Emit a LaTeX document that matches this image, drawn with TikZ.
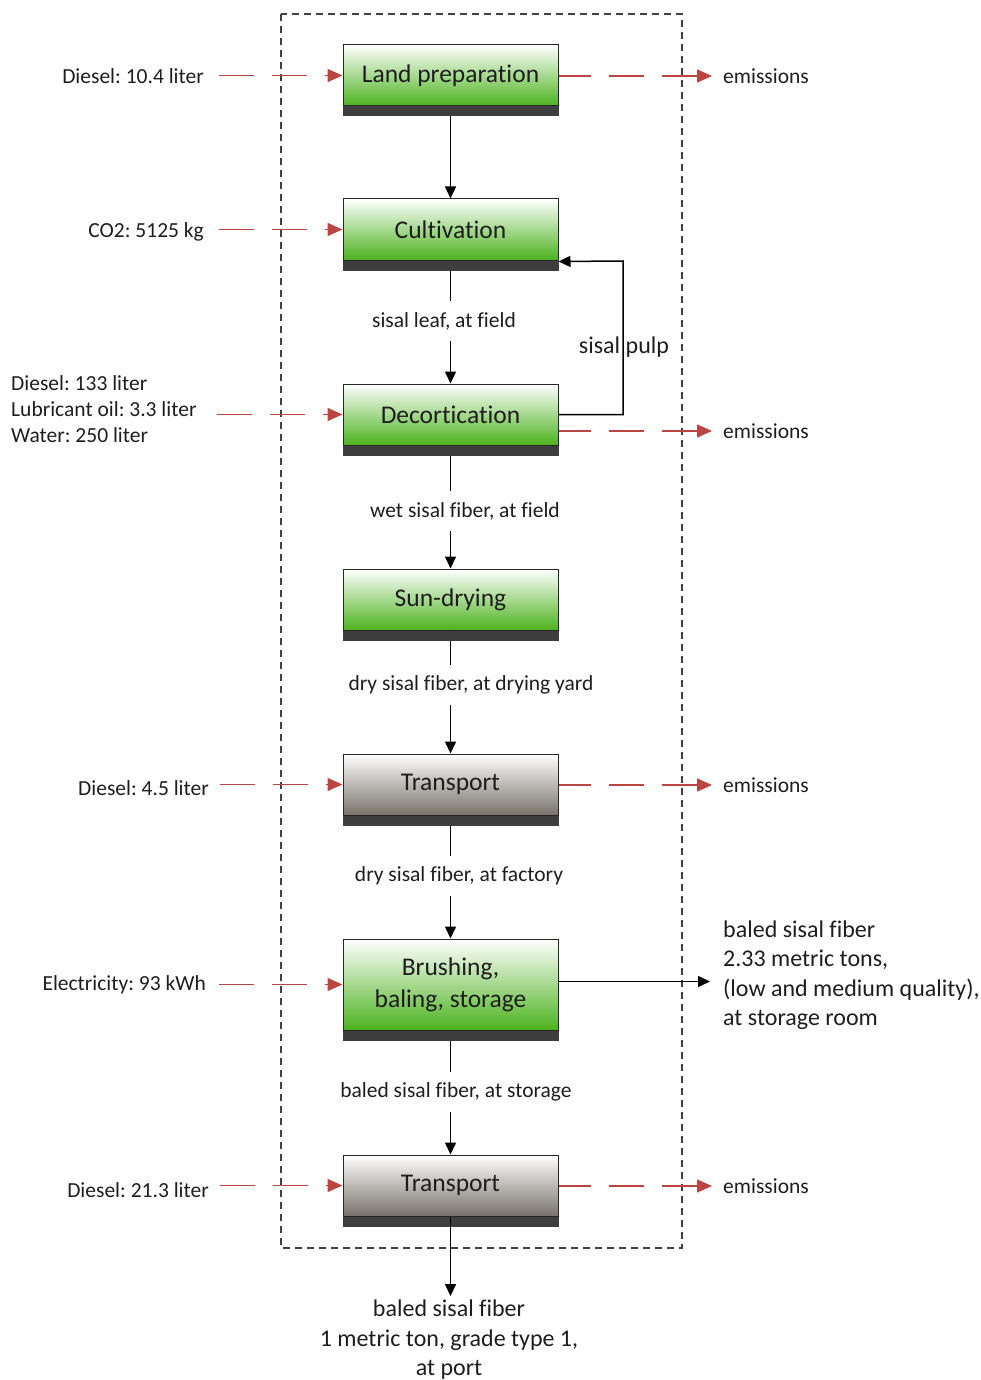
\documentclass[tikz,border=0pt]{standalone}
\usepackage{fontspec}
\setmainfont[Ligatures=NoCommon]{Carlito}
\usetikzlibrary{arrows.meta}
\definecolor{arrred}{RGB}{185,70,66}
\definecolor{boxgreen}{RGB}{76,178,30}
\definecolor{boxgray}{RGB}{120,114,106}
\definecolor{stripc}{RGB}{62,62,62}
\definecolor{txt}{RGB}{30,30,30}
\frenchspacing
\begin{document}
\frenchspacing
\begin{tikzpicture}[x=1pt,y=-1pt,
  proc/.style={draw=black!85, line width=1pt, minimum width=215pt, minimum height=61pt,
    inner sep=0pt, font=\fontsize{25.5}{30}\selectfont, text=txt, align=center},
  greenbox/.style={proc, top color=white, bottom color=boxgreen},
  graybox/.style={proc, top color=white, bottom color=boxgray},
  strip/.style={fill=stripc},
  small/.style={inner sep=0pt, text=txt, font=\fontsize{21.5}{26}\selectfont},
  big/.style={inner sep=0pt, text=txt, font=\fontsize{24}{29.5}\selectfont},
  flowlbl/.style={small, fill=white, inner xsep=2pt, inner ysep=11pt},
  conn/.style={line width=1.5pt, black, -{Triangle[length=12pt,width=11pt]}},
  redarr/.style={line width=1.5pt, arrred, dash pattern=on 35pt off 18pt,
    -{Triangle[length=15pt,width=13pt]}},
  border/.style={line width=1.4pt, black!75, dash pattern=on 7pt off 5pt}
]
\useasboundingbox (0,0) rectangle (981,1380);

% frame
\draw[border] (281,14) rectangle (682,1248);

% process boxes
\node[greenbox] (b1) at (450.5,75.5) {Land preparation};
\node[greenbox] (b2) at (450.5,229.5) {Cultivation};
\node[greenbox] (b3) at (450.5,414.5) {Decortication};
\node[greenbox] (b4) at (450.5,599.5) {Sun-drying};
\node[graybox]  (b5) at (450.5,784.5) {Transport};
\node[greenbox, minimum height=91pt] (b6) at (450.5,984.5) {Brushing,\\[2pt]baling, storage};
\node[graybox]  (b7) at (450.5,1185.5) {Transport};

% main flow
\draw[conn] (b1.south) -- (b2.north);
\draw[conn] (b2.south) -- (b3.north);
\draw[conn] (b3.south) -- (b4.north);
\draw[conn] (b4.south) -- (b5.north);
\draw[conn] (b5.south) -- (b6.north);
\draw[conn] (b6.south) -- (b7.north);

\node[flowlbl] (l2) at (444,321) {sisal leaf, at field};
\node[flowlbl] (l3) at (465,511) {wet sisal fiber, at field};
\node[flowlbl] (l4) at (471,685) {dry sisal fiber, at drying yard};
\node[flowlbl] (l5) at (459,876) {dry sisal fiber, at factory};
\node[flowlbl] (l6) at (456,1092) {baled sisal fiber, at storage};

% strips under boxes
\foreach \b in {b1,b2,b3,b4,b5,b6,b7}{
  \fill[strip] (\b.south west) rectangle ([yshift=-10pt]\b.south east);
}

% sisal pulp recycle
\coordinate (pb) at (623,261);
\draw[conn] (b3.east) -| (pb) -- ([yshift=-1pt]b2.south east);
\node[big] (pulp) at (624,347) {sisal pulp};

% inputs
\node[small, anchor=east] (i1) at (204,76) {Diesel: 10.4 liter};
\node[small, anchor=east] (i2) at (204,232) {CO2: 5125 kg};
\node[small, anchor=west, align=left] (i3) at (11,409) {Diesel: 133 liter\\Lubricant oil: 3.3 liter\\Water: 250 liter};
\node[small, anchor=east] (i5) at (209,788) {Diesel: 4.5 liter};
\node[small, anchor=east] (i6) at (206,985) {Electricity: 93 kWh};
\node[small, anchor=east] (i7) at (209,1190) {Diesel: 21.3 liter};

\draw[redarr, shorten <=15pt] (i1.east |- b1.west) -- (b1.west);
\draw[redarr, shorten <=15pt] (i2.east |- b2.west) -- (b2.west);
\draw[redarr, shorten <=20pt] (i3.east |- b3.west) -- (b3.west);
\draw[redarr, shorten <=11pt] (i5.east |- b5.west) -- (b5.west);
\draw[redarr, shorten <=13pt] (i6.east |- b6.west) -- (b6.west);
\draw[redarr, shorten <=11pt] (i7.east |- b7.west) -- (b7.west);

% emissions
\node[small, anchor=west] (e1) at (723,76) {emissions};
\node[small, anchor=west] (e3) at (723,431) {emissions};
\node[small, anchor=west] (e5) at (723,785) {emissions};
\node[small, anchor=west] (e7) at (723,1186) {emissions};

\draw[redarr, dash phase=3pt, shorten >=11pt] (b1.east |- e1.west) -- (e1.west);
\draw[redarr, dash phase=3pt, shorten >=11pt] (b3.east |- e3.west) -- (e3.west);
\draw[redarr, dash phase=3pt, shorten >=11pt] (b5.east |- e5.west) -- (e5.west);
\draw[redarr, dash phase=3pt, shorten >=11pt] (b7.east |- e7.west) -- (e7.west);

% outputs
\node[big, anchor=west, align=left] (o6) at (723,975) {baled sisal fiber\\2.33 metric tons,\\(low and medium quality),\\at storage room};
\draw[conn, shorten >=13pt] ([yshift=3pt]b6.east) -- ([yshift=3pt]b6.east -| o6.west);

\node[big, align=center] (out) at (449,1340) {baled sisal fiber\\1 metric ton, grade type 1,\\at port};
\draw[conn, shorten >=4pt] (b7.south) -- (b7.south |- out.north);
\end{tikzpicture}
\end{document}
